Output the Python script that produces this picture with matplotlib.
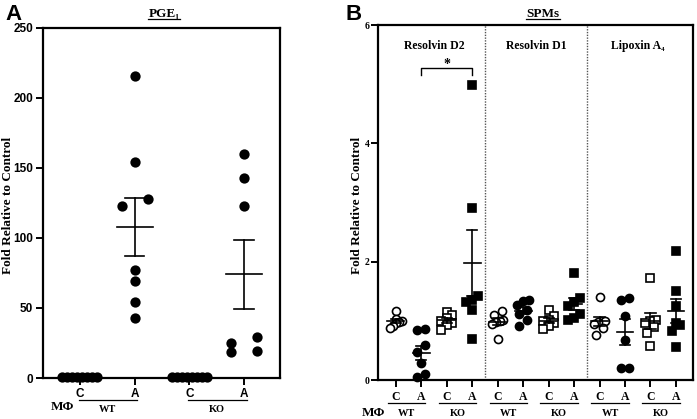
import numpy as np
import matplotlib
matplotlib.use("Agg")
import matplotlib.pyplot as plt
from matplotlib import transforms
from matplotlib.lines import Line2D

SERIF = ['Liberation Serif', 'DejaVu Serif']
SANS = ['Liberation Sans', 'DejaVu Sans']

# ---- data ----
pge_groups = ['C', 'A', 'C', 'A']
pge_genotypes = ['WT', 'KO']
pge_wt_c = [1, 1, 1, 1, 1, 1, 1, 1]
pge_wt_a = [216, 154, 128, 123, 77, 69, 54, 43]
pge_ko_c = [1, 1, 1, 1, 1, 1, 1, 1]
pge_ko_a = [160, 143, 123, 29.5, 24.8, 19.5, 18.3]

spm_names = ['Resolvin D2', 'Resolvin D1', 'Lipoxin A\u2084']
spm_groups = ['C', 'A'] * 6
spm_genotypes = ['WT', 'KO'] * 3
rvd2_wt_c = [1.17, 1.03, 1.0, 0.98, 0.96, 0.92, 0.88]
rvd2_wt_a = [0.86, 0.84, 0.6, 0.47, 0.28, 0.1, 0.05]
rvd2_ko_c = [1.15, 1.1, 1.05, 1.0, 0.97, 0.93, 0.84]
rvd2_ko_a = [4.98, 2.9, 1.42, 1.36, 1.32, 1.18, 0.70]
rvd1_wt_c = [1.17, 1.1, 1.02, 1.0, 0.98, 0.94, 0.70]
rvd1_wt_a = [1.36, 1.33, 1.27, 1.18, 1.12, 1.02, 0.92]
rvd1_ko_c = [1.18, 1.08, 1.02, 1.0, 0.97, 0.92, 0.86]
rvd1_ko_a = [1.81, 1.38, 1.32, 1.25, 1.12, 1.05, 1.02]
lxa4_wt_c = [1.40, 1.0, 1.0, 0.98, 0.95, 0.88, 0.76]
lxa4_wt_a = [1.38, 1.36, 1.08, 0.68, 0.21, 0.20]
lxa4_ko_c = [1.72, 1.02, 1.0, 0.97, 0.9, 0.8, 0.58]
lxa4_ko_a = [2.18, 1.5, 1.25, 0.97, 0.93, 0.83, 0.55]


def row_offsets(vals, row_h, step, maxw):
    # bin close values into rows, spread each row symmetrically
    vals = np.asarray(vals, float)
    order = np.argsort(vals)
    offs = np.zeros(len(vals))
    i = 0
    while i < len(order):
        j = i
        while j + 1 < len(order) and vals[order[j + 1]] - vals[order[i]] < row_h:
            j += 1
        n = j - i + 1
        if n > 1:
            st = min(step, maxw / (n - 1))
            for k in range(n):
                offs[order[i + k]] = (k - (n - 1) / 2) * st
        i = j + 1
    return offs


def draw_group(ax, x, vals, marker, filled, ms, row_h, step, maxw, half, cap):
    vals = np.asarray(vals, float)
    xs = x + row_offsets(vals, row_h, step, maxw)
    ax.plot(xs, vals, ls='none', marker=marker, ms=ms,
            mfc='black' if filled else 'white', mec='black', mew=1.2,
            clip_on=False, zorder=3)
    m = vals.mean()
    sem = vals.std(ddof=1) / np.sqrt(len(vals))
    lw = 1.2
    ax.plot([x - half, x + half], [m, m], color='black', lw=lw, zorder=4, clip_on=False)
    ax.plot([x, x], [m - sem, m + sem], color='black', lw=lw, zorder=4)
    ax.plot([x - cap, x + cap], [m + sem, m + sem], color='black', lw=lw, zorder=4)
    ax.plot([x - cap, x + cap], [m - sem, m - sem], color='black', lw=lw, zorder=4)


def fy(px):
    return 1 - px / 419.0


def fx(px):
    return px / 697.0


fig = plt.figure(figsize=(6.97, 4.19), dpi=100)

# ---------- panel A ----------
axA = fig.add_axes([fx(43), fy(378), fx(280) - fx(43), fy(28) - fy(378)])
for i, vals in enumerate([pge_wt_c, pge_wt_a, pge_ko_c, pge_ko_a]):
    draw_group(axA, i, vals, 'o', True, 6.2, 6.4, 0.47, 0.64, 0.33, 0.18)
axA.set_xlim(-0.67, 3.65)
axA.set_ylim(0, 250)
axA.set_yticks([0, 50, 100, 150, 200, 250])
axA.set_xticks(range(4))
axA.set_xticklabels(pge_groups)
for sp in axA.spines.values():
    sp.set_linewidth(1.6)
axA.tick_params(width=1.4, length=5, direction='out')
axA.tick_params(axis='x', pad=2)
axA.tick_params(axis='y', pad=2)
for lab in axA.get_yticklabels() + axA.get_xticklabels():
    lab.set_family(SANS)
    lab.set_fontweight('bold')
    lab.set_fontsize(8.5)

trA = transforms.blended_transform_factory(axA.transData, fig.transFigure)
for k, g in enumerate(pge_genotypes):
    x0 = 2 * k
    fig.add_artist(Line2D([x0 - 0.02, x0 + 1.05], [fy(400), fy(400)], transform=trA,
                          color='black', lw=0.9))
    fig.text(x0 + 0.5, fy(409), g, transform=trA, ha='center', va='center',
             family=SERIF, fontweight='bold', fontsize=7.5)
fig.text(fx(62), fy(407), 'M\u03a6', ha='center', va='center', family=SERIF,
         fontweight='bold', fontsize=9.5)

# ---------- panel B ----------
axB = fig.add_axes([fx(378), fy(380), fx(693) - fx(378), fy(25) - fy(380)])
spm_data = [rvd2_wt_c, rvd2_wt_a, rvd2_ko_c, rvd2_ko_a,
            rvd1_wt_c, rvd1_wt_a, rvd1_ko_c, rvd1_ko_a,
            lxa4_wt_c, lxa4_wt_a, lxa4_ko_c, lxa4_ko_a]
for i, vals in enumerate(spm_data):
    ko = (i // 2) % 2 == 1
    filled = i % 2 == 1
    draw_group(axB, i, vals, 's' if ko else 'o', filled, 5.6 if ko else 5.8,
               0.135, 0.31, 0.45, 0.33, 0.2)
axB.set_xlim(-0.7, 11.67)
axB.set_ylim(0, 6)
axB.set_yticks([0, 2, 4, 6])
axB.set_xticks(range(12))
axB.set_xticklabels(spm_groups)
for sp in axB.spines.values():
    sp.set_linewidth(1.6)
axB.tick_params(width=1.4, length=5, direction='out')
axB.tick_params(axis='x', pad=3)
for lab in axB.get_yticklabels():
    lab.set_family(SERIF)
    lab.set_fontweight('bold')
    lab.set_fontsize(7)
for lab in axB.get_xticklabels():
    lab.set_family(SERIF)
    lab.set_fontweight('bold')
    lab.set_fontsize(8.5)
axB.tick_params(axis='y', pad=1)

for xv in [3.5, 7.5]:
    axB.axvline(xv, color='#555555', lw=1.0, ls=(0, (1, 1)))
for k, name in enumerate(spm_names):
    axB.text(1.5 + 4 * k, 5.65, name, ha='center', va='center', family=SERIF,
             fontweight='bold', fontsize=8.5)

# significance bracket
axB.plot([1, 1, 3, 3], [5.15, 5.27, 5.27, 5.15], color='black', lw=1.0)
axB.text(2, 5.33, '*', ha='center', va='center', family=SERIF, fontweight='bold',
         fontsize=10)

trB = transforms.blended_transform_factory(axB.transData, fig.transFigure)
for k, g in enumerate(spm_genotypes):
    x0 = 2 * k
    fig.add_artist(Line2D([x0 - 0.32, x0 + 1.15], [fy(403), fy(403)], transform=trB,
                          color='black', lw=0.9))
    fig.text(x0 + 0.42, fy(413), g, transform=trB, ha='center', va='center',
             family=SERIF, fontweight='bold', fontsize=7.5)
fig.text(fx(373), fy(413), 'M\u03a6', ha='center', va='center', family=SERIF,
         fontweight='bold', fontsize=9.5)

# ---------- labels ----------
for x in [8, 357]:
    fig.text(fx(x), fy(205), 'Fold Relative to Control', rotation=90, ha='center',
             va='center', family=SERIF, fontweight='bold', fontsize=9.5)
fig.text(fx(13), fy(14), 'A', ha='center', va='center', family=SANS,
         fontweight='bold', fontsize=16)
fig.text(fx(354), fy(14), 'B', ha='center', va='center', family=SANS,
         fontweight='bold', fontsize=16)
titles = [fig.text(fx(164), fy(14), 'PGE\u2081', ha='center', va='center',
                   family=SERIF, fontweight='bold', fontsize=9.5),
          fig.text(fx(543), fy(14), 'SPMs', ha='center', va='center',
                   family=SERIF, fontweight='bold', fontsize=9.5)]

fig.canvas.draw()
r = fig.canvas.get_renderer()
for t in titles:
    bb = t.get_window_extent(r).transformed(fig.transFigure.inverted())
    fig.add_artist(Line2D([bb.x0, bb.x1], [bb.y0 + 0.003, bb.y0 + 0.003],
                          transform=fig.transFigure, color='black', lw=0.9))

fig.savefig('out.png', dpi=100)
